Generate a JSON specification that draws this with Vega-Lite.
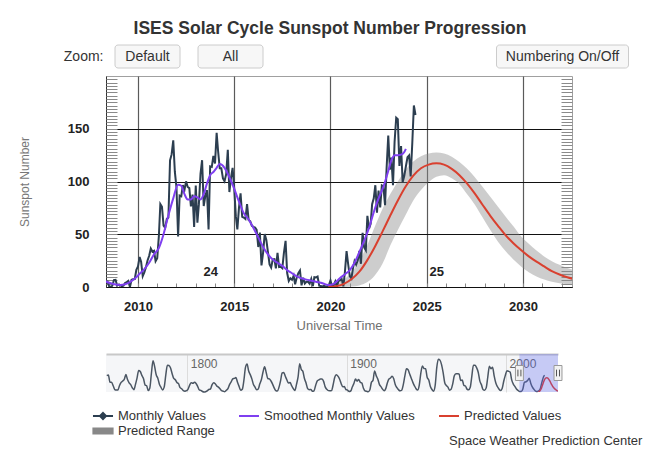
{
  "$schema": "https://vega.github.io/schema/vega-lite/v6.json",
  "padding": {"left": 17, "top": 20, "right": 0, "bottom": 0},
  "config": {"font": "Liberation Sans", "view": {"stroke": null}},
  "title": {"text": "Space Weather Prediction Center", "orient": "bottom", "anchor": "start", "frame": "group", "dx": 343, "offset": -3, "fontSize": 13, "fontWeight": "normal", "color": "#333333"},
  "spacing": 21,
  "vconcat": [
    {
      "spacing": 6,
      "vconcat": [
        {
          "width": 498,
          "height": 23,
          "title": {"text": "ISES Solar Cycle Sunspot Number Progression", "fontSize": 17.5, "fontWeight": "bold", "color": "#333333", "anchor": "middle", "dx": -25, "offset": 7},
          "view": {"stroke": null},
          "data": {"name": "buttons"},
          "encoding": {
            "x": {"field": "label", "type": "nominal", "scale": {"type": "band", "domain": ["Default", "All", "s1", "s2", "s3", "Numbering On/Off"], "paddingInner": 0, "paddingOuter": 0}, "axis": null},
            "y": {"datum": "Zoom:", "type": "nominal", "scale": {"type": "band", "paddingInner": 0, "paddingOuter": 0}, "axis": {"title": null, "ticks": false, "tickSize": 0, "domain": false, "labelFontSize": 14, "labelColor": "#333333", "labelPadding": 3}}
          },
          "layer": [
            {"transform": [{"filter": "datum.label !== 'Numbering On/Off'"}], "mark": {"type": "rect", "width": 65, "fill": "#f7f7f7", "stroke": "#cccccc", "strokeWidth": 1, "cornerRadius": 3}},
            {"transform": [{"filter": "datum.label === 'Numbering On/Off'"}], "mark": {"type": "rect", "width": 132, "fill": "#f7f7f7", "stroke": "#cccccc", "strokeWidth": 1, "cornerRadius": 3}},
            {"mark": {"type": "text", "fontSize": 14, "color": "#333333"}, "encoding": {"text": {"field": "label"}}}
          ]
        },
        {
          "width": 466,
          "height": 211,
          "view": {"stroke": "#a0a0a0", "strokeWidth": 1},
          "resolve": {"axis": {"y": "independent"}},
          "encoding": {
            "x": {"field": "t", "type": "temporal", "scale": {"type": "utc", "domain": [{"year": 2008, "month": 5, "date": 4, "utc": true}, {"year": 2032, "month": 7, "date": 18, "utc": true}]},
              "axis": {"values": [1230768000000, 1262304000000, 1293840000000, 1325376000000, 1356998400000, 1388534400000, 1420070400000, 1451606400000, 1483228800000, 1514764800000, 1546300800000, 1577836800000, 1609459200000, 1640995200000, 1672531200000, 1704067200000, 1735689600000, 1767225600000, 1798761600000, 1830297600000, 1861920000000, 1893456000000, 1924992000000, 1956528000000],
                "labelExpr": "utcyear(datum.value) % 5 === 0 ? utcFormat(datum.value, '%Y') : ''",
                "labelOverlap": false, "labelFlush": false,
                "tickSize": -4, "tickColor": "#888888", "tickWidth": 1,
                "labelFontSize": 13, "labelFontWeight": "bold", "labelColor": "#222222", "labelPadding": 17,
                "grid": true, "gridColor": "#5a5a5a", "gridWidth": 1.2,
                "gridOpacity": {"condition": {"test": "utcyear(datum.value) % 5 === 0", "value": 1}, "value": 0},
                "domainColor": "#111111", "domainWidth": 1,
                "title": "Universal Time", "titleFontSize": 13, "titleFontWeight": "normal", "titleColor": "#707070", "titlePadding": 6}}
          },
          "layer": [
            {
              "data": {"name": "predicted"},
              "mark": {"type": "area", "fillOpacity": 0.42, "clip": true, "interpolate": "monotone"},
              "encoding": {
                "y": {"field": "lo", "type": "quantitative", "scale": {"domain": [0, 200], "nice": false, "zero": true},
                  "axis": {"orient": "left", "values": [0, 50, 100, 150], "ticks": false, "tickSize": 0, "labelFontSize": 13, "labelFontWeight": "bold", "labelColor": "#222222", "labelPadding": 17,
                    "grid": true, "gridColor": "#111111", "gridWidth": 1, "domain": true, "domainColor": "#333333",
                    "title": "Sunspot Number", "titleFontSize": 12, "titleFontWeight": "normal", "titleColor": "#777777", "titlePadding": 36}},
                "y2": {"field": "hi"},
                "color": {"datum": "Predicted Range", "type": "nominal",
                  "scale": {"domain": ["Monthly Values", "Smoothed Monthly Values", "Predicted Values", "Predicted Range"], "range": ["#2c3e50", "#7f3ff0", "#d9402f", "#888888"]},
                  "legend": {"orient": "none", "legendX": -10, "legendY": 364, "direction": "horizontal", "columns": 3, "title": null,
                    "labelFontSize": 13, "labelColor": "#333333", "symbolSize": 144, "symbolStrokeWidth": 2, "labelOffset": 8, "columnPadding": 19, "rowPadding": 1,
                    "encoding": {"symbols": {
                      "shape": {"value": {"expr": "datum.value === 'Monthly Values' ? 'M-1.67,0H1.67M0,-0.5L0.5,0L0,0.5L-0.5,0Z' : datum.value === 'Predicted Range' ? 'M-1.6,-0.4H1.6V0.4H-1.6Z' : 'M-1.67,0H1.67'"}},
                      "fill": {"value": {"expr": "datum.value === 'Monthly Values' ? '#2c3e50' : datum.value === 'Predicted Range' ? '#7d7d7d' : 'transparent'"}},
                      "stroke": {"value": {"expr": "datum.value === 'Monthly Values' ? '#2c3e50' : datum.value === 'Smoothed Monthly Values' ? '#7f3ff0' : datum.value === 'Predicted Values' ? '#e0392b' : 'transparent'"}},
                      "strokeWidth": {"value": 2},
                      "opacity": {"value": 1},
                      "fillOpacity": {"value": 1}
                    }}}}
              }
            },
            {
              "data": {"name": "monthly"},
              "mark": {"type": "line", "strokeWidth": 2, "clip": true},
              "encoding": {
                "y": {"field": "v", "type": "quantitative",
                  "axis": {"orient": "left", "values": [3.125,6.25,9.375,12.5,15.625,18.75,21.875,25,28.125,31.25,34.375,37.5,40.625,43.75,46.875,50,53.125,56.25,59.375,62.5,65.625,68.75,71.875,75,78.125,81.25,84.375,87.5,90.625,93.75,96.875,100,103.125,106.25,109.375,112.5,115.625,118.75,121.875,125,128.125,131.25,134.375,137.5,140.625,143.75,146.875,150,153.125,156.25,159.375,162.5,165.625,168.75,171.875,175,178.125,181.25,184.375,187.5,190.625,193.75,196.875],
                    "tickSize": -11, "tickColor": "#8a8a8a", "tickWidth": 1, "labels": false, "grid": false, "domain": false, "title": null}},
                "color": {"datum": "Monthly Values", "type": "nominal"}
              }
            },
            {
              "data": {"name": "smoothed"},
              "mark": {"type": "line", "strokeWidth": 2, "clip": true, "interpolate": "monotone"},
              "encoding": {
                "y": {"field": "v", "type": "quantitative",
                  "axis": {"orient": "right", "values": [3.125,6.25,9.375,12.5,15.625,18.75,21.875,25,28.125,31.25,34.375,37.5,40.625,43.75,46.875,50,53.125,56.25,59.375,62.5,65.625,68.75,71.875,75,78.125,81.25,84.375,87.5,90.625,93.75,96.875,100,103.125,106.25,109.375,112.5,115.625,118.75,121.875,125,128.125,131.25,134.375,137.5,140.625,143.75,146.875,150,153.125,156.25,159.375,162.5,165.625,168.75,171.875,175,178.125,181.25,184.375,187.5,190.625,193.75,196.875],
                    "tickSize": -11, "tickColor": "#8a8a8a", "tickWidth": 1, "labels": false, "grid": false, "domain": false, "title": null}},
                "color": {"datum": "Smoothed Monthly Values", "type": "nominal"}
              }
            },
            {
              "data": {"name": "predicted"},
              "mark": {"type": "line", "strokeWidth": 2, "clip": true, "interpolate": "monotone"},
              "encoding": {
                "y": {"field": "v", "type": "quantitative", "axis": null},
                "color": {"datum": "Predicted Values", "type": "nominal"}
              }
            },
            {
              "data": {"name": "cycles"},
              "mark": {"type": "text", "fontSize": 13, "fontWeight": "bold", "color": "#222222"},
              "encoding": {
                "y": {"field": "v", "type": "quantitative", "axis": null},
                "text": {"field": "label"}
              }
            }
          ]
        }
      ]
    },
    {
      "width": 452,
      "height": 38,
      "view": {"stroke": null, "fill": "#f5f6f8"},
      "encoding": {
        "x": {"field": "t", "type": "temporal", "scale": {"type": "utc", "domain": [{"year": 1749, "month": 1, "date": 1, "utc": true}, {"year": 2032, "month": 7, "date": 18, "utc": true}]},
          "axis": {"orient": "top", "values": [-5364662400000, -2208988800000, 946684800000], "format": "%Y",
            "ticks": false, "tickSize": 0, "domain": true, "domainColor": "#c8c8c8", "domainWidth": 2, "grid": true, "gridColor": "#dcdcdc", "gridWidth": 1,
            "labelAlign": "left", "labelBaseline": "top", "labelPadding": -4, "labelOffset": 3, "labelFontSize": 12, "labelColor": "#666666", "labelFlush": false, "title": null}}
      },
      "layer": [
        {
          "data": {"name": "yearly"},
          "mark": {"type": "line", "color": "#4b5663", "strokeWidth": 1.5, "interpolate": "monotone"},
          "encoding": {"y": {"field": "v", "type": "quantitative", "scale": {"domain": [0, 312], "nice": false}, "axis": null}}
        },
        {
          "data": {"name": "predicted"},
          "mark": {"type": "line", "color": "#e0392b", "strokeWidth": 1.5, "interpolate": "monotone", "clip": true},
          "encoding": {"y": {"field": "v", "type": "quantitative", "axis": null}}
        },
        {
          "data": {"name": "zoom"},
          "mark": {"type": "rect", "color": "#5a64f0", "opacity": 0.3},
          "encoding": {"x2": {"field": "t2"}}
        },
        {
          "data": {"name": "edges"},
          "mark": {"type": "point", "shape": "M-0.53,-1H0.53V1H-0.53Z", "size": 225, "filled": true, "fill": "#f2f2f2", "stroke": "#999999", "strokeWidth": 1, "opacity": 1}
        },
        {
          "data": {"name": "edges"},
          "mark": {"type": "point", "shape": "M-0.2,-0.45V0.45M0.2,-0.45V0.45", "size": 225, "filled": false, "stroke": "#555555", "strokeWidth": 1, "opacity": 1}
        }
      ]
    }
  ],
  "datasets": {
    "buttons": [{"label": "Default"}, {"label": "All"}, {"label": "Numbering On/Off"}],
    "cycles": [{"t": "2013-10-12", "v": 14.6, "label": "24"}, {"t": "2025-07-08", "v": 14.6, "label": "25"}],
    "zoom": [{"t": "2008-05-04", "t2": "2032-07-18"}],
    "edges": [{"t": "2008-05-04"}, {"t": "2032-07-18"}],
    "monthly": [
      {"t":"2008-05","v":4.9},{"t":"2008-06","v":5.1},{"t":"2008-07","v":0.8},{"t":"2008-08","v":0.0},{"t":"2008-09","v":1.2},{"t":"2008-10","v":6.5},{"t":"2008-11","v":6.8},{"t":"2008-12","v":1.3},
      {"t":"2009-01","v":2.3},{"t":"2009-02","v":1.5},{"t":"2009-03","v":0.7},{"t":"2009-04","v":1.2},{"t":"2009-05","v":3.9},{"t":"2009-06","v":4.7},{"t":"2009-07","v":5.8},{"t":"2009-08","v":0.0},{"t":"2009-09","v":6.9},{"t":"2009-10","v":7.4},{"t":"2009-11","v":7.6},{"t":"2009-12","v":16.2},
      {"t":"2010-01","v":19.5},{"t":"2010-02","v":28.5},{"t":"2010-03","v":24.0},{"t":"2010-04","v":10.4},{"t":"2010-05","v":13.9},{"t":"2010-06","v":18.8},{"t":"2010-07","v":25.2},{"t":"2010-08","v":29.6},{"t":"2010-09","v":36.4},{"t":"2010-10","v":33.6},{"t":"2010-11","v":34.4},{"t":"2010-12","v":24.5},
      {"t":"2011-01","v":27.3},{"t":"2011-02","v":48.3},{"t":"2011-03","v":78.6},{"t":"2011-04","v":76.1},{"t":"2011-05","v":58.2},{"t":"2011-06","v":56.1},{"t":"2011-07","v":64.5},{"t":"2011-08","v":65.8},{"t":"2011-09","v":120.1},{"t":"2011-10","v":125.7},{"t":"2011-11","v":139.1},{"t":"2011-12","v":109.3},
      {"t":"2012-01","v":94.4},{"t":"2012-02","v":47.8},{"t":"2012-03","v":86.6},{"t":"2012-04","v":85.9},{"t":"2012-05","v":96.5},{"t":"2012-06","v":92.0},{"t":"2012-07","v":100.1},{"t":"2012-08","v":94.8},{"t":"2012-09","v":93.7},{"t":"2012-10","v":76.5},{"t":"2012-11","v":87.6},{"t":"2012-12","v":56.8},
      {"t":"2013-01","v":96.1},{"t":"2013-02","v":60.9},{"t":"2013-03","v":78.3},{"t":"2013-04","v":107.3},{"t":"2013-05","v":120.2},{"t":"2013-06","v":76.7},{"t":"2013-07","v":86.2},{"t":"2013-08","v":91.8},{"t":"2013-09","v":54.5},{"t":"2013-10","v":114.4},{"t":"2013-11","v":113.9},{"t":"2013-12","v":124.2},
      {"t":"2014-01","v":117.0},{"t":"2014-02","v":146.1},{"t":"2014-03","v":128.7},{"t":"2014-04","v":112.5},{"t":"2014-05","v":112.5},{"t":"2014-06","v":102.9},{"t":"2014-07","v":100.2},{"t":"2014-08","v":106.9},{"t":"2014-09","v":130.0},{"t":"2014-10","v":90.0},{"t":"2014-11","v":103.6},{"t":"2014-12","v":112.9},
      {"t":"2015-01","v":93.0},{"t":"2015-02","v":66.7},{"t":"2015-03","v":54.5},{"t":"2015-04","v":75.3},{"t":"2015-05","v":88.8},{"t":"2015-06","v":66.5},{"t":"2015-07","v":65.8},{"t":"2015-08","v":64.4},{"t":"2015-09","v":78.6},{"t":"2015-10","v":63.6},{"t":"2015-11","v":62.2},{"t":"2015-12","v":58.0},
      {"t":"2016-01","v":57.0},{"t":"2016-02","v":56.4},{"t":"2016-03","v":54.1},{"t":"2016-04","v":37.9},{"t":"2016-05","v":51.5},{"t":"2016-06","v":20.5},{"t":"2016-07","v":32.4},{"t":"2016-08","v":50.2},{"t":"2016-09","v":44.6},{"t":"2016-10","v":33.4},{"t":"2016-11","v":21.4},{"t":"2016-12","v":18.5},
      {"t":"2017-01","v":26.1},{"t":"2017-02","v":26.4},{"t":"2017-03","v":17.7},{"t":"2017-04","v":32.3},{"t":"2017-05","v":18.9},{"t":"2017-06","v":19.2},{"t":"2017-07","v":17.8},{"t":"2017-08","v":32.6},{"t":"2017-09","v":43.7},{"t":"2017-10","v":13.2},{"t":"2017-11","v":5.7},{"t":"2017-12","v":8.2},
      {"t":"2018-01","v":6.8},{"t":"2018-02","v":10.7},{"t":"2018-03","v":2.5},{"t":"2018-04","v":8.9},{"t":"2018-05","v":13.1},{"t":"2018-06","v":15.6},{"t":"2018-07","v":1.6},{"t":"2018-08","v":8.7},{"t":"2018-09","v":3.3},{"t":"2018-10","v":4.9},{"t":"2018-11","v":4.9},{"t":"2018-12","v":3.1},
      {"t":"2019-01","v":7.7},{"t":"2019-02","v":0.8},{"t":"2019-03","v":9.4},{"t":"2019-04","v":9.1},{"t":"2019-05","v":9.9},{"t":"2019-06","v":1.2},{"t":"2019-07","v":0.9},{"t":"2019-08","v":0.5},{"t":"2019-09","v":1.1},{"t":"2019-10","v":0.4},{"t":"2019-11","v":0.5},{"t":"2019-12","v":1.5},
      {"t":"2020-01","v":6.2},{"t":"2020-02","v":0.2},{"t":"2020-03","v":1.5},{"t":"2020-04","v":5.2},{"t":"2020-05","v":0.2},{"t":"2020-06","v":5.8},{"t":"2020-07","v":6.1},{"t":"2020-08","v":7.5},{"t":"2020-09","v":0.6},{"t":"2020-10","v":14.4},{"t":"2020-11","v":34.0},{"t":"2020-12","v":21.8},
      {"t":"2021-01","v":10.4},{"t":"2021-02","v":8.2},{"t":"2021-03","v":17.2},{"t":"2021-04","v":24.5},{"t":"2021-05","v":21.2},{"t":"2021-06","v":25.0},{"t":"2021-07","v":34.3},{"t":"2021-08","v":22.0},{"t":"2021-09","v":51.3},{"t":"2021-10","v":37.4},{"t":"2021-11","v":34.8},{"t":"2021-12","v":67.5},
      {"t":"2022-01","v":55.3},{"t":"2022-02","v":59.9},{"t":"2022-03","v":78.5},{"t":"2022-04","v":84.1},{"t":"2022-05","v":96.5},{"t":"2022-06","v":70.5},{"t":"2022-07","v":91.4},{"t":"2022-08","v":75.4},{"t":"2022-09","v":96.3},{"t":"2022-10","v":95.4},{"t":"2022-11","v":77.6},{"t":"2022-12","v":113.1},
      {"t":"2023-01","v":143.6},{"t":"2023-02","v":111.3},{"t":"2023-03","v":122.6},{"t":"2023-04","v":96.4},{"t":"2023-05","v":137.4},{"t":"2023-06","v":160.5},{"t":"2023-07","v":159.1},{"t":"2023-08","v":114.8},{"t":"2023-09","v":133.6},{"t":"2023-10","v":99.4},{"t":"2023-11","v":105.4},{"t":"2023-12","v":114.2},
      {"t":"2024-01","v":123.0},{"t":"2024-02","v":124.7},{"t":"2024-03","v":104.9},{"t":"2024-04","v":136.5},{"t":"2024-05","v":172.1},{"t":"2024-06","v":163.0}
    ],
    "smoothed": [
      {"t":"2008-05","v":5.2},{"t":"2008-08","v":3.6},{"t":"2008-11","v":2.4},{"t":"2009-02","v":2.0},{"t":"2009-05","v":2.6},{"t":"2009-08","v":4.6},{"t":"2009-11","v":8.0},
      {"t":"2010-02","v":12.5},{"t":"2010-05","v":17},{"t":"2010-08","v":23},{"t":"2010-11","v":31},{"t":"2011-02","v":37},{"t":"2011-05","v":50},{"t":"2011-08","v":68},{"t":"2011-11","v":84},
      {"t":"2012-02","v":97},{"t":"2012-04","v":96},{"t":"2012-06","v":88},{"t":"2012-08","v":83},{"t":"2012-10","v":83},{"t":"2012-12","v":86},{"t":"2013-02","v":85},{"t":"2013-04","v":83},{"t":"2013-06","v":88},{"t":"2013-08","v":98},{"t":"2013-10","v":106},{"t":"2013-12","v":109},
      {"t":"2014-02","v":113},{"t":"2014-04","v":116.5},{"t":"2014-07","v":113},{"t":"2014-10","v":104},{"t":"2015-01","v":93},{"t":"2015-04","v":81},{"t":"2015-07","v":70},{"t":"2015-10","v":64},
      {"t":"2016-01","v":56},{"t":"2016-04","v":47},{"t":"2016-07","v":38},{"t":"2016-10","v":31},{"t":"2017-01","v":26},{"t":"2017-04","v":23},{"t":"2017-07","v":20},{"t":"2017-10","v":16},
      {"t":"2018-01","v":13},{"t":"2018-04","v":10},{"t":"2018-07","v":8.3},{"t":"2018-10","v":7},{"t":"2019-01","v":6},{"t":"2019-04","v":5},{"t":"2019-07","v":4},{"t":"2019-10","v":2.5},{"t":"2019-12","v":1.8},
      {"t":"2020-03","v":3},{"t":"2020-07","v":8.5},{"t":"2020-10","v":12},{"t":"2021-01","v":16},{"t":"2021-04","v":23},{"t":"2021-07","v":33},{"t":"2021-10","v":44},
      {"t":"2022-01","v":56},{"t":"2022-04","v":71},{"t":"2022-07","v":84},{"t":"2022-10","v":95},{"t":"2023-01","v":110},{"t":"2023-03","v":120},{"t":"2023-05","v":125},{"t":"2023-07","v":125},{"t":"2023-09","v":125.5},{"t":"2023-11","v":128},{"t":"2023-12","v":131}
    ],
    "predicted": [
      {"t":"2019-11-24","v":0,"lo":0,"hi":0},{"t":"2020-04-20","v":0.8,"lo":0,"hi":2.5},{"t":"2020-09-13","v":3,"lo":0,"hi":7},
      {"t":"2021-02-06","v":7.5,"lo":0.5,"hi":14},{"t":"2021-07-02","v":14.5,"lo":1.5,"hi":25},{"t":"2021-11-24","v":25,"lo":4.5,"hi":39},
      {"t":"2022-04-20","v":38,"lo":11,"hi":57},{"t":"2022-09-13","v":52.5,"lo":22,"hi":74},
      {"t":"2023-02-06","v":67.5,"lo":39,"hi":88},{"t":"2023-07-02","v":82,"lo":54,"hi":100},{"t":"2023-11-24","v":95,"lo":68,"hi":111},
      {"t":"2024-04-20","v":105.5,"lo":82,"hi":119},{"t":"2024-09-13","v":112.5,"lo":92,"hi":124},
      {"t":"2025-02-06","v":116,"lo":99.5,"hi":126.5},{"t":"2025-07-02","v":117.2,"lo":104.5,"hi":127.5},{"t":"2025-11-24","v":116,"lo":106,"hi":126.5},
      {"t":"2026-04-20","v":112,"lo":103,"hi":123.5},{"t":"2026-09-13","v":106,"lo":97.5,"hi":118.5},
      {"t":"2027-02-06","v":98,"lo":88,"hi":112},{"t":"2027-07-02","v":88.5,"lo":78,"hi":104},{"t":"2027-11-24","v":78,"lo":66,"hi":95},
      {"t":"2028-04-20","v":67.5,"lo":54,"hi":85.5},{"t":"2028-09-13","v":58,"lo":43,"hi":76},
      {"t":"2029-02-06","v":49,"lo":34,"hi":66.5},{"t":"2029-07-02","v":41.5,"lo":26,"hi":57.5},{"t":"2029-11-24","v":35,"lo":19.5,"hi":48},
      {"t":"2030-04-20","v":29,"lo":14,"hi":41},{"t":"2030-09-13","v":24,"lo":10,"hi":34.5},
      {"t":"2031-02-06","v":19.5,"lo":7,"hi":29},{"t":"2031-07-02","v":15,"lo":5,"hi":24.5},{"t":"2031-11-24","v":11.8,"lo":3.6,"hi":21},
      {"t":"2032-04-20","v":9.2,"lo":2.7,"hi":18},{"t":"2032-09-13","v":7.2,"lo":2.2,"hi":16}
    ],
    "yearly": [
      {"t":"1749-07","v":134.7},{"t":"1750-07","v":139.0},{"t":"1751-07","v":79.5},{"t":"1752-07","v":79.7},{"t":"1753-07","v":51.2},{"t":"1754-07","v":20.3},{"t":"1755-07","v":16.0},{"t":"1756-07","v":17.0},{"t":"1757-07","v":54.0},{"t":"1758-07","v":79.3},{"t":"1759-07","v":90.0},
      {"t":"1760-07","v":104.8},{"t":"1761-07","v":143.2},{"t":"1762-07","v":102.0},{"t":"1763-07","v":75.2},{"t":"1764-07","v":60.7},{"t":"1765-07","v":34.8},{"t":"1766-07","v":19.0},{"t":"1767-07","v":63.0},{"t":"1768-07","v":116.3},{"t":"1769-07","v":176.8},
      {"t":"1770-07","v":168.0},{"t":"1771-07","v":136.0},{"t":"1772-07","v":110.8},{"t":"1773-07","v":58.0},{"t":"1774-07","v":51.0},{"t":"1775-07","v":11.7},{"t":"1776-07","v":33.0},{"t":"1777-07","v":154.2},{"t":"1778-07","v":257.3},{"t":"1779-07","v":209.8},
      {"t":"1780-07","v":141.3},{"t":"1781-07","v":113.5},{"t":"1782-07","v":64.2},{"t":"1783-07","v":38.0},{"t":"1784-07","v":17.0},{"t":"1785-07","v":40.2},{"t":"1786-07","v":138.2},{"t":"1787-07","v":220.0},{"t":"1788-07","v":218.2},{"t":"1789-07","v":196.8},
      {"t":"1790-07","v":149.8},{"t":"1791-07","v":111.0},{"t":"1792-07","v":100.0},{"t":"1793-07","v":78.2},{"t":"1794-07","v":68.3},{"t":"1795-07","v":35.5},{"t":"1796-07","v":26.7},{"t":"1797-07","v":10.7},{"t":"1798-07","v":6.8},{"t":"1799-07","v":11.3},
      {"t":"1800-07","v":24.2},{"t":"1801-07","v":56.7},{"t":"1802-07","v":75.0},{"t":"1803-07","v":71.8},{"t":"1804-07","v":79.2},{"t":"1805-07","v":70.3},{"t":"1806-07","v":46.8},{"t":"1807-07","v":16.8},{"t":"1808-07","v":13.5},{"t":"1809-07","v":4.2},
      {"t":"1810-07","v":0.0},{"t":"1811-07","v":2.3},{"t":"1812-07","v":8.3},{"t":"1813-07","v":20.3},{"t":"1814-07","v":23.2},{"t":"1815-07","v":59.0},{"t":"1816-07","v":76.3},{"t":"1817-07","v":68.3},{"t":"1818-07","v":50.2},{"t":"1819-07","v":39.8},
      {"t":"1820-07","v":26.0},{"t":"1821-07","v":11.0},{"t":"1822-07","v":6.7},{"t":"1823-07","v":3.0},{"t":"1824-07","v":14.2},{"t":"1825-07","v":27.7},{"t":"1826-07","v":60.5},{"t":"1827-07","v":82.7},{"t":"1828-07","v":107.0},{"t":"1829-07","v":111.7},
      {"t":"1830-07","v":118.2},{"t":"1831-07","v":79.7},{"t":"1832-07","v":45.8},{"t":"1833-07","v":14.2},{"t":"1834-07","v":22.0},{"t":"1835-07","v":94.8},{"t":"1836-07","v":202.5},{"t":"1837-07","v":230.5},{"t":"1838-07","v":172.0},{"t":"1839-07","v":142.8},
      {"t":"1840-07","v":107.7},{"t":"1841-07","v":61.2},{"t":"1842-07","v":40.3},{"t":"1843-07","v":17.8},{"t":"1844-07","v":25.0},{"t":"1845-07","v":66.8},{"t":"1846-07","v":102.5},{"t":"1847-07","v":164.2},{"t":"1848-07","v":207.8},{"t":"1849-07","v":160.5},
      {"t":"1850-07","v":111.0},{"t":"1851-07","v":107.5},{"t":"1852-07","v":90.2},{"t":"1853-07","v":65.0},{"t":"1854-07","v":34.3},{"t":"1855-07","v":11.2},{"t":"1856-07","v":7.2},{"t":"1857-07","v":37.8},{"t":"1858-07","v":91.3},{"t":"1859-07","v":156.3},
      {"t":"1860-07","v":159.7},{"t":"1861-07","v":128.7},{"t":"1862-07","v":98.5},{"t":"1863-07","v":73.3},{"t":"1864-07","v":78.3},{"t":"1865-07","v":50.8},{"t":"1866-07","v":27.2},{"t":"1867-07","v":12.2},{"t":"1868-07","v":62.7},{"t":"1869-07","v":123.3},
      {"t":"1870-07","v":231.7},{"t":"1871-07","v":185.3},{"t":"1872-07","v":169.3},{"t":"1873-07","v":110.3},{"t":"1874-07","v":74.5},{"t":"1875-07","v":28.3},{"t":"1876-07","v":18.8},{"t":"1877-07","v":20.7},{"t":"1878-07","v":5.7},{"t":"1879-07","v":10.0},
      {"t":"1880-07","v":53.8},{"t":"1881-07","v":90.5},{"t":"1882-07","v":99.5},{"t":"1883-07","v":106.2},{"t":"1884-07","v":105.8},{"t":"1885-07","v":87.0},{"t":"1886-07","v":42.3},{"t":"1887-07","v":21.8},{"t":"1888-07","v":11.3},{"t":"1889-07","v":10.5},
      {"t":"1890-07","v":11.8},{"t":"1891-07","v":59.3},{"t":"1892-07","v":121.7},{"t":"1893-07","v":141.8},{"t":"1894-07","v":130.0},{"t":"1895-07","v":106.7},{"t":"1896-07","v":69.7},{"t":"1897-07","v":43.7},{"t":"1898-07","v":44.5},{"t":"1899-07","v":20.2},
      {"t":"1900-07","v":15.8},{"t":"1901-07","v":4.5},{"t":"1902-07","v":8.3},{"t":"1903-07","v":40.7},{"t":"1904-07","v":70.0},{"t":"1905-07","v":105.8},{"t":"1906-07","v":89.7},{"t":"1907-07","v":103.3},{"t":"1908-07","v":80.8},{"t":"1909-07","v":73.2},
      {"t":"1910-07","v":31.0},{"t":"1911-07","v":9.5},{"t":"1912-07","v":6.0},{"t":"1913-07","v":2.3},{"t":"1914-07","v":16.0},{"t":"1915-07","v":79.0},{"t":"1916-07","v":95.2},{"t":"1917-07","v":173.2},{"t":"1918-07","v":134.3},{"t":"1919-07","v":106.0},
      {"t":"1920-07","v":62.7},{"t":"1921-07","v":43.5},{"t":"1922-07","v":23.7},{"t":"1923-07","v":9.7},{"t":"1924-07","v":27.8},{"t":"1925-07","v":73.8},{"t":"1926-07","v":106.5},{"t":"1927-07","v":115.0},{"t":"1928-07","v":129.7},{"t":"1929-07","v":108.2},
      {"t":"1930-07","v":59.5},{"t":"1931-07","v":35.3},{"t":"1932-07","v":18.5},{"t":"1933-07","v":9.5},{"t":"1934-07","v":14.5},{"t":"1935-07","v":60.2},{"t":"1936-07","v":132.8},{"t":"1937-07","v":190.7},{"t":"1938-07","v":182.7},{"t":"1939-07","v":148.0},
      {"t":"1940-07","v":113.0},{"t":"1941-07","v":79.2},{"t":"1942-07","v":51.0},{"t":"1943-07","v":27.2},{"t":"1944-07","v":16.0},{"t":"1945-07","v":55.3},{"t":"1946-07","v":154.3},{"t":"1947-07","v":214.2},{"t":"1948-07","v":193.1},{"t":"1949-07","v":190.7},
      {"t":"1950-07","v":118.9},{"t":"1951-07","v":98.3},{"t":"1952-07","v":45.0},{"t":"1953-07","v":20.1},{"t":"1954-07","v":6.6},{"t":"1955-07","v":54.2},{"t":"1956-07","v":200.7},{"t":"1957-07","v":269.3},{"t":"1958-07","v":261.7},{"t":"1959-07","v":225.1},
      {"t":"1960-07","v":159.0},{"t":"1961-07","v":76.4},{"t":"1962-07","v":53.4},{"t":"1963-07","v":39.9},{"t":"1964-07","v":15.0},{"t":"1965-07","v":22.0},{"t":"1966-07","v":66.8},{"t":"1967-07","v":132.9},{"t":"1968-07","v":150.0},{"t":"1969-07","v":149.4},
      {"t":"1970-07","v":148.0},{"t":"1971-07","v":94.4},{"t":"1972-07","v":97.6},{"t":"1973-07","v":54.1},{"t":"1974-07","v":49.2},{"t":"1975-07","v":22.5},{"t":"1976-07","v":18.4},{"t":"1977-07","v":39.3},{"t":"1978-07","v":131.0},{"t":"1979-07","v":220.1},
      {"t":"1980-07","v":218.9},{"t":"1981-07","v":198.9},{"t":"1982-07","v":162.4},{"t":"1983-07","v":91.0},{"t":"1984-07","v":60.5},{"t":"1985-07","v":20.6},{"t":"1986-07","v":14.8},{"t":"1987-07","v":33.9},{"t":"1988-07","v":123.0},{"t":"1989-07","v":211.1},
      {"t":"1990-07","v":191.8},{"t":"1991-07","v":203.3},{"t":"1992-07","v":133.0},{"t":"1993-07","v":76.1},{"t":"1994-07","v":44.9},{"t":"1995-07","v":25.1},{"t":"1996-07","v":11.6},{"t":"1997-07","v":28.9},{"t":"1998-07","v":88.3},{"t":"1999-07","v":136.3},
      {"t":"2000-07","v":173.9},{"t":"2001-07","v":170.4},{"t":"2002-07","v":163.6},{"t":"2003-07","v":99.3},{"t":"2004-07","v":65.3},{"t":"2005-07","v":45.8},{"t":"2006-07","v":24.7},{"t":"2007-07","v":12.6},{"t":"2008-07","v":4.2},{"t":"2009-07","v":4.8},
      {"t":"2010-07","v":24.9},{"t":"2011-07","v":80.8},{"t":"2012-07","v":84.5},{"t":"2013-07","v":94.0},{"t":"2014-07","v":113.3},{"t":"2015-07","v":69.8},{"t":"2016-07","v":39.8},{"t":"2017-07","v":21.7},{"t":"2018-07","v":7.0},{"t":"2019-07","v":3.6},
      {"t":"2020-07","v":8.8},{"t":"2021-07","v":29.6},{"t":"2022-07","v":83.2},{"t":"2023-07","v":125.5},{"t":"2024-03","v":137.0}
    ]
  }
}
